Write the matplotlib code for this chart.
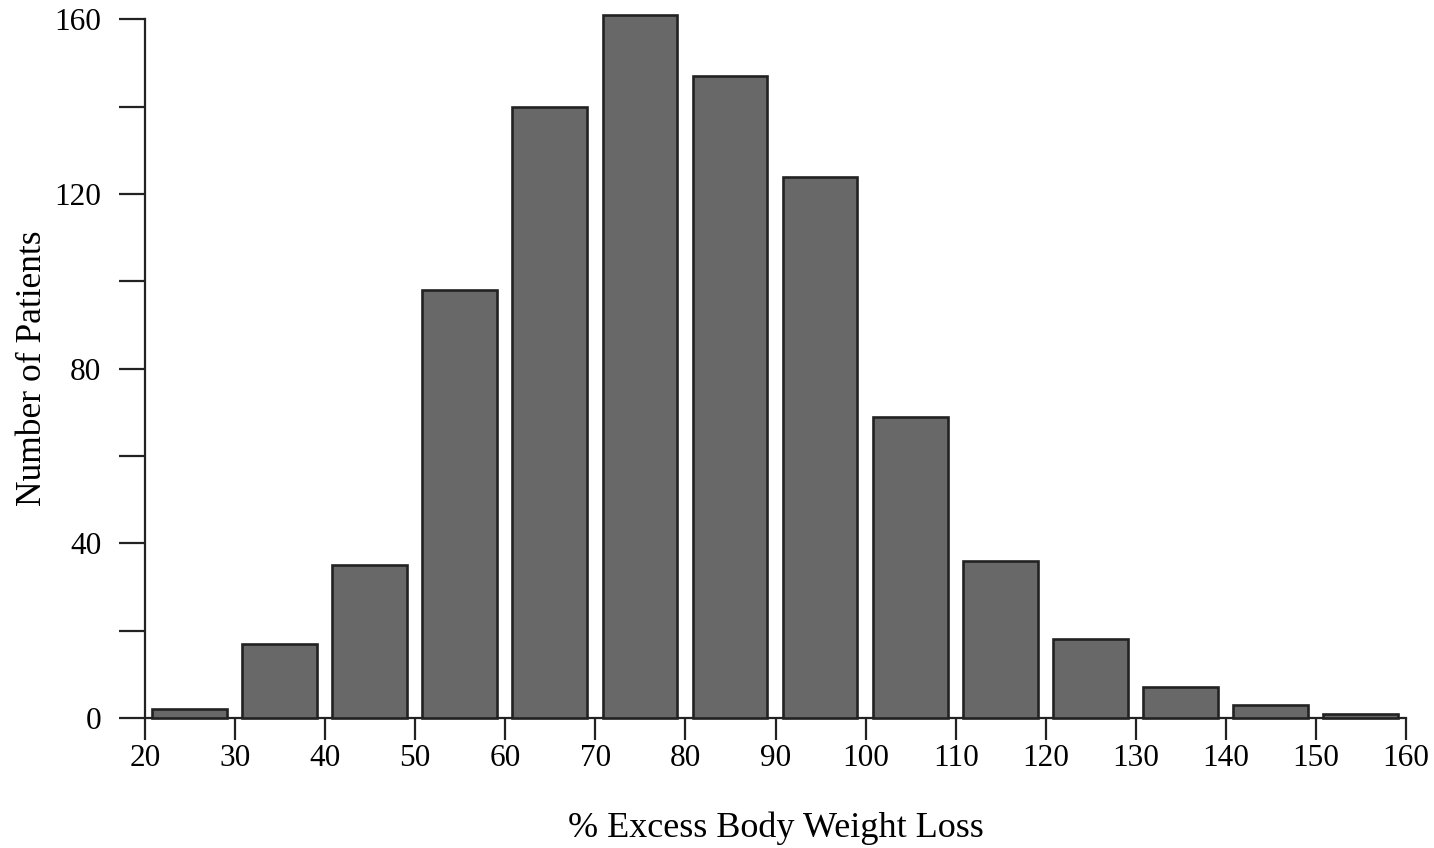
import numpy as np
import matplotlib
matplotlib.use('Agg')
import matplotlib.pyplot as plt

# Histograma: % de pérdida de exceso de peso
bin_starts = [20, 30, 40, 50, 60, 70, 80, 90, 100, 110, 120, 130, 140, 150]
patients = [2, 17, 35, 98, 140, 161, 147, 124, 69, 36, 18, 7, 3, 1]
x_ticks = [20, 30, 40, 50, 60, 70, 80, 90, 100, 110, 120, 130, 140, 150, 160]
y_ticks = [0, 20, 40, 60, 80, 100, 120, 140, 160]
y_labels = ['0', '', '40', '', '80', '', '120', '', '160']

plt.rcParams['font.family'] = ['Liberation Serif', 'DejaVu Serif']

fig = plt.figure(figsize=(14.34, 8.48), dpi=100)
ax = fig.add_axes([0.1011, 0.1533, 0.8794, 0.8239])

bar_offset = 0.8
bar_width = 8.3
ax.bar(np.array(bin_starts) + bar_offset, patients, width=bar_width, align='edge',
       color='#686868', edgecolor='#222222', linewidth=1.9, clip_on=False, zorder=3)

ax.set_xlim(20, 160)
ax.set_ylim(0, 160)

ax.spines['top'].set_visible(False)
ax.spines['right'].set_visible(False)
for side in ['left', 'bottom']:
    ax.spines[side].set_linewidth(1.6)
    ax.spines[side].set_color('#222222')

ax.set_xticks(x_ticks)
ax.set_yticks(y_ticks)
ax.set_yticklabels(y_labels)
ax.tick_params(axis='y', length=18.5, width=1.6, pad=13, labelsize=22.5, color='#222222')
ax.tick_params(axis='x', length=15.5, width=1.6, pad=3, labelsize=22.5, color='#222222')

ax.set_xlabel('% Excess Body Weight Loss', fontsize=26, labelpad=28)
ax.set_ylabel('Number of Patients', fontsize=25.5, labelpad=4)

plt.savefig('out.png', dpi=100)
